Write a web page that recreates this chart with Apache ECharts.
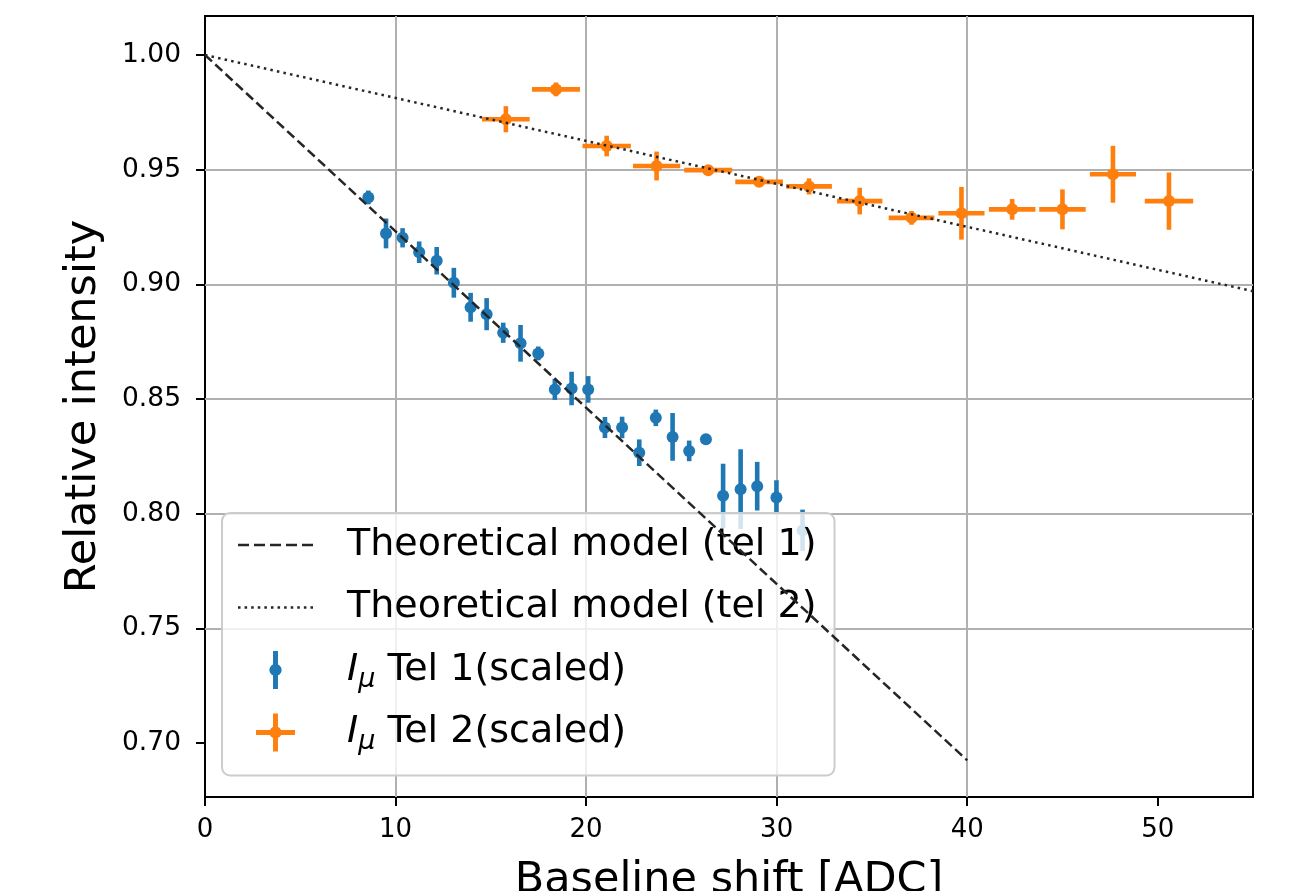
<!DOCTYPE html>
<html><head><meta charset="utf-8">
<script src="https://cdn.jsdelivr.net/npm/echarts@6/dist/echarts.min.js"></script>
<style>html,body{margin:0;padding:0;background:#fff}#c{width:1303px;height:891px}</style>
</head><body><div id="c"></div>
<script>
// ---- data ----
const xTicks = [0, 10, 20, 30, 40, 50];
const yTicks = [0.70, 0.75, 0.80, 0.85, 0.90, 0.95, 1.00];

const tel1X = [8.57, 9.50, 10.37, 11.24, 12.16, 13.06, 13.94, 14.78, 15.65, 16.56, 17.49, 18.36, 19.24,
  20.11, 20.99, 21.89, 22.79, 23.66, 24.54, 25.41, 26.29, 27.19, 28.11, 28.98, 29.99, 31.36];
const tel1Y = [0.9379, 0.9222, 0.9203, 0.9140, 0.9103, 0.9007, 0.8900, 0.8870, 0.8789, 0.8743, 0.8699, 0.8542, 0.8546,
  0.8542, 0.8376, 0.8376, 0.8266, 0.8418, 0.8335, 0.8274, 0.8325, 0.8078, 0.8107, 0.8120, 0.8071, 0.7928];
const tel1Err = [0.003, 0.0065, 0.0042, 0.0047, 0.006, 0.0065, 0.0063, 0.007, 0.0044, 0.008, 0.003, 0.0046, 0.0073,
  0.0058, 0.0046, 0.0047, 0.0058, 0.0036, 0.0104, 0.0045, 0.0023, 0.014, 0.0174, 0.0106, 0.0075, 0.009];

const tel2X = [15.79, 18.42, 21.08, 23.70, 26.41, 29.08, 31.70, 34.36, 37.08, 39.70, 42.36, 45.00, 47.65, 50.59];
const tel2Y = [0.9720, 0.9850, 0.9603, 0.9516, 0.9498, 0.9447, 0.9427, 0.9363, 0.9290, 0.9310, 0.9327, 0.9327, 0.9480, 0.9363];
const tel2XErr = [1.25, 1.26, 1.27, 1.24, 1.26, 1.25, 1.20, 1.19, 1.20, 1.21, 1.22, 1.22, 1.21, 1.27];
const tel2YErr = [0.0057, 0.003, 0.0045, 0.0063, 0.0015, 0.002, 0.0035, 0.0058, 0.003, 0.0115, 0.0045, 0.0087, 0.0124, 0.0125];

const model1X = [0, 40];
const model1Y = [1.0, 0.6925];
const model2X = [0, 55];
const model2Y = [1.0, 0.897];

const names = ['Theoretical model (tel 1)', 'Theoretical model (tel 2)', 'Iμ Tel 1(scaled)', 'Iμ Tel 2(scaled)'];

// ---- styling helpers ----
const FONT = 'DejaVu Sans';
const BLUE = '#1f77b4', ORANGE = '#ff7f0e', LINEC = '#262626';

function rectP(x, y, w, h) { return `M${x},${y}L${x + w},${y}L${x + w},${y + h}L${x},${y + h}Z`; }
function circP(cx, cy, r) { return `M${cx - r},${cy}A${r},${r} 0 1,1 ${cx + r},${cy}A${r},${r} 0 1,1 ${cx - r},${cy}Z`; }
let dashIcon = 'path://';
for (let k = 0; k < 5; k++) dashIcon += rectP(k * 16, 0, 11, 2.5);
let dotIcon = 'path://';
for (let k = 0; k < 12; k++) dotIcon += rectP(k * 6.5, 0, 2.5, 2.5);
const blueIcon = 'path://' + rectP(-2.4, -18.5, 4.8, 37) + circP(0, 0, 6);
const orangeIcon = 'path://' + rectP(-2.4, -18.5, 4.8, 37) + rectP(-19, -2.4, 38, 4.8) + circP(0, 0, 6);

function errRender(color) {
  return function (params, api) {
    const x = api.value(0), y = api.value(1), ex = api.value(2), ey = api.value(3);
    const c = api.coord([x, y]);
    const t = api.coord([x, y + ey]);
    const b = api.coord([x, y - ey]);
    const lw = 4.6;
    const children = [
      { type: 'line', shape: { x1: c[0], y1: t[1], x2: c[0], y2: b[1] }, style: { stroke: color, lineWidth: lw } }
    ];
    if (ex > 0) {
      const l = api.coord([x - ex, y]), r = api.coord([x + ex, y]);
      children.push({ type: 'line', shape: { x1: l[0], y1: c[1], x2: r[0], y2: c[1] }, style: { stroke: color, lineWidth: lw } });
    }
    children.push({ type: 'circle', shape: { cx: c[0], cy: c[1], r: 6 }, style: { fill: color } });
    return { type: 'group', children };
  };
}

const chart = echarts.init(document.getElementById('c'), null, { renderer: 'canvas' });
chart.setOption({
  animation: false,
  backgroundColor: '#fff',
  grid: { left: 205, right: 50, top: 16, bottom: 94, show: true, borderColor: '#000', borderWidth: 2,
    backgroundColor: 'transparent', containLabel: false, outerBoundsMode: 'none' },
  xAxis: {
    type: 'value', min: 0, max: 55,
    name: 'Baseline shift [ADC]', nameLocation: 'middle', nameGap: 62,
    nameTextStyle: { fontFamily: FONT, fontSize: 43, color: '#000' },
    axisLine: { show: false },
    axisTick: { show: true, length: 9, inside: false, customValues: xTicks, lineStyle: { color: '#000', width: 2 } },
    axisLabel: { customValues: xTicks, margin: 20, fontFamily: FONT, fontSize: 26, color: '#000', formatter: v => String(v) },
    splitLine: { show: true, showMinLine: false, showMaxLine: false, lineStyle: { color: '#b0b0b0', width: 2 } }
  },
  yAxis: {
    type: 'value', min: 0.6765, max: 1.017,
    name: 'Relative intensity', nameLocation: 'middle', nameGap: 100, nameRotate: 90,
    nameTextStyle: { fontFamily: FONT, fontSize: 43, color: '#000' },
    axisLine: { show: false },
    axisTick: { show: true, length: 9, inside: false, customValues: yTicks, lineStyle: { color: '#000', width: 2 } },
    axisLabel: { customValues: yTicks, margin: 24, fontFamily: FONT, fontSize: 26.5, color: '#000', formatter: v => v.toFixed(2) },
    splitLine: { show: true, showMinLine: false, showMaxLine: false, lineStyle: { color: '#b0b0b0', width: 2 } }
  },
  legend: {
    orient: 'vertical', left: 222, top: 513,
    padding: [9, 18, 20, 16],
    itemGap: 16.5, itemWidth: 75, itemHeight: 38,
    backgroundColor: 'rgba(255,255,255,0.8)', borderColor: '#cccccc', borderWidth: 2, borderRadius: 8,
    selectedMode: false,
    itemStyle: { borderWidth: 0 },
    data: [
      { name: names[0], icon: dashIcon },
      { name: names[1], icon: dotIcon },
      { name: names[2], icon: blueIcon },
      { name: names[3], icon: orangeIcon }
    ],
    formatter: function (name) {
      if (name.indexOf('Iμ') === 0) return '{it|I}{sub|μ}{n| ' + name.slice(3) + '}';
      return '{n|' + name + '}';
    },
    textStyle: {
      fontFamily: FONT, fontSize: 38, color: '#000', lineHeight: 46, padding: [0, 0, 0, 29],
      rich: {
        it: { fontFamily: FONT, fontStyle: 'italic', fontSize: 38, lineHeight: 46, color: '#000' },
        sub: { fontFamily: FONT, fontStyle: 'italic', fontSize: 27, lineHeight: 28, verticalAlign: 'bottom', color: '#000' },
        n: { fontFamily: FONT, fontSize: 38, lineHeight: 46, color: '#000' }
      }
    }
  },
  series: [
    {
      name: names[2], type: 'custom', z: 3, clip: true,
      itemStyle: { color: BLUE }, color: BLUE,
      renderItem: errRender(BLUE),
      encode: { x: 0, y: 1 },
      data: tel1X.map((x, i) => [x, tel1Y[i], 0, tel1Err[i]])
    },
    {
      name: names[3], type: 'custom', z: 3, clip: true,
      itemStyle: { color: ORANGE }, color: ORANGE,
      renderItem: errRender(ORANGE),
      encode: { x: 0, y: 1 },
      data: tel2X.map((x, i) => [x, tel2Y[i], tel2XErr[i], tel2YErr[i]])
    },
    {
      name: names[0], type: 'line', z: 4, symbol: 'none', silent: true,
      color: LINEC, itemStyle: { color: LINEC },
      lineStyle: { color: LINEC, width: 2.5, type: [9.5, 4.5] },
      data: model1X.map((x, i) => [x, model1Y[i]])
    },
    {
      name: names[1], type: 'line', z: 4, symbol: 'none', silent: true,
      color: LINEC, itemStyle: { color: LINEC },
      lineStyle: { color: LINEC, width: 2.5, type: [2.5, 4.2] },
      data: model2X.map((x, i) => [x, model2Y[i]])
    }
  ]
});
</script></body></html>
